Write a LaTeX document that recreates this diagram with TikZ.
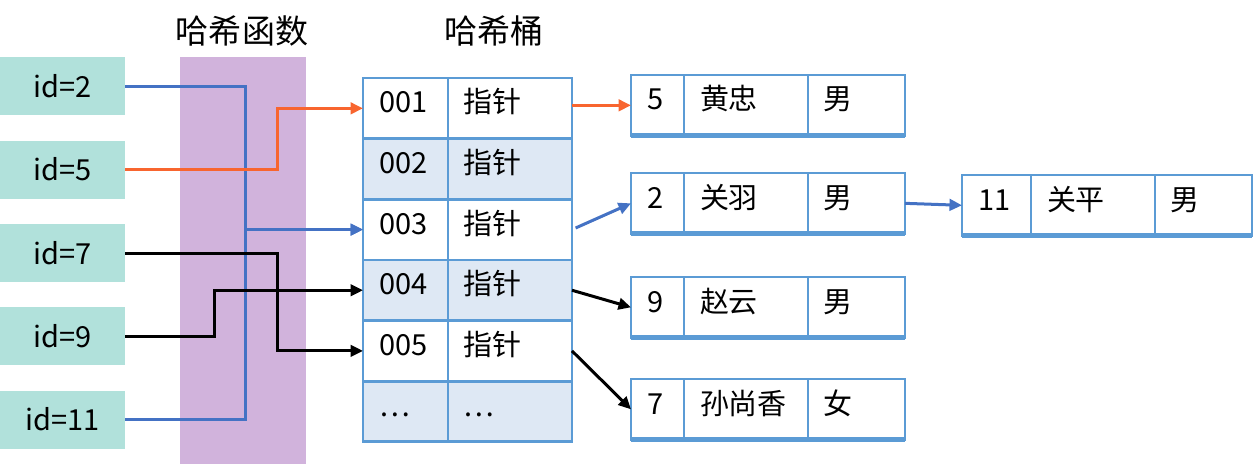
\documentclass[tikz,border=0pt]{standalone}
\usepackage{fontspec}
\setmainfont{Noto Sans CJK SC}
\usetikzlibrary{arrows.meta,positioning}
\definecolor{IdTeal}{HTML}{B1E1DB}
\definecolor{HashPurple}{HTML}{D1B3DC}
\definecolor{CellBlue}{HTML}{5B9BD5}
\definecolor{CellFill}{HTML}{DEE8F4}
\definecolor{LinkBlue}{HTML}{4472C4}
\definecolor{LinkOrange}{HTML}{F8652F}

\tikzset{
  title/.style={font=\fontsize{18.8pt}{22pt}\selectfont,inner sep=0pt},
  idbox/.style={fill=IdTeal,minimum width=2.5cm,minimum height=1.16cm,inner sep=0pt},
  cell/.style={draw=CellBlue,line width=0.055cm,outer sep=0pt,minimum height=1.213cm,
    inner xsep=0.32cm,inner ysep=0pt,align=left,text height=0.5cm,text depth=0.313cm},
  link/.style={line width=0.06cm,-{Triangle[length=0.25cm,width=0.23cm]}},
  baseline/.style={CellBlue,line width=0.09cm},
}

\begin{document}
\begin{tikzpicture}[x=0.02cm,y=-0.02cm,font=\fontsize{16.5pt}{19pt}\selectfont]
    \useasboundingbox (0,0) rectangle (1256,464);
    % hash function band and titles
    \node[fill=HashPurple,minimum width=2.52cm,minimum height=8.14cm,inner sep=0pt] (band) at (243,260.5) {};
    \node[title] (fntitle) at (242,31) {哈希函数};
    \node[title] (bktitle) at (494,31) {哈希桶};

    % keys
    \node[idbox] (id2)  at (62.5,86)    {id=2};
    \node[idbox] (id5)  at (62.5,169.5) {id=5};
    \node[idbox] (id7)  at (62.5,253)   {id=7};
    \node[idbox] (id9)  at (62.5,336)   {id=9};
    \node[idbox] (id11) at (62.5,419.5) {id=11};

    % hash buckets
    \node[cell,fill=white,text width=1.06cm,anchor=north west] (k1) at (363,78) {001};
    \node[cell,fill=white,text width=1.84cm,right=0pt of k1] (p1) {指针};
    \foreach \i/\k/\p/\c [remember=\i as \j (initially 1)] in
      {2/002/指针/CellFill,3/003/指针/white,4/004/指针/CellFill,5/005/指针/white,6/…/…/CellFill}{
      \node[cell,fill=\c,text width=1.06cm,below=0pt of k\j] (k\i) {\k};
      \node[cell,fill=\c,text width=1.84cm,right=0pt of k\i] (p\i) {\p};
    }

    % keys through the hash function
    \draw[link,LinkBlue]   (id2.east)  -- ++(120,0) |- (k3.west);
    \draw[link,LinkBlue]   (id11.east) -- ++(120,0) |- (k3.west);
    \draw[link,LinkOrange] (id5.east)  -- ++(152,0) |- (k1.west);
    \draw[link]            (id7.east)  -- ++(152,0) |- (k5.west);
    \draw[link]            (id9.east)  -- ++(89,0)  |- (k4.west);

    % records
    \node[cell,text width=0.42cm,anchor=north west] (rec5) at (631,75) {5};
    \node[cell,text width=1.84cm,right=0pt of rec5] (rec5n) {黄忠};
    \node[cell,text width=1.30cm,right=0pt of rec5n] (rec5g) {男};
    \node[cell,text width=0.42cm,anchor=north west] (rec2) at (631,173) {2};
    \node[cell,text width=1.84cm,right=0pt of rec2] (rec2n) {关羽};
    \node[cell,text width=1.30cm,right=0pt of rec2n] (rec2g) {男};
    \node[cell,text width=0.74cm,anchor=north west] (rec11) at (962,175) {11};
    \node[cell,text width=1.84cm,right=0pt of rec11] (rec11n) {关平};
    \node[cell,text width=1.30cm,right=0pt of rec11n] (rec11g) {男};
    \node[cell,text width=0.42cm,anchor=north west] (rec9) at (631,277) {9};
    \node[cell,text width=1.84cm,right=0pt of rec9] (rec9n) {赵云};
    \node[cell,text width=1.30cm,right=0pt of rec9n] (rec9g) {男};
    \node[cell,text width=0.42cm,anchor=north west] (rec7) at (631,379) {7};
    \node[cell,text width=1.84cm,right=0pt of rec7] (rec7n) {孙尚香};
    \node[cell,text width=1.30cm,right=0pt of rec7n] (rec7g) {女};
    \foreach \n in {5,2,11,9,7}
      \draw[baseline] (rec\n.south west) -- (rec\n g.south east);

    % bucket pointers
    \draw[link,LinkOrange] (p1.east |- rec5.west) -- (rec5.west);
    \draw[link,LinkBlue,shorten <=0.08cm] (p3.east) -- (rec2.west);
    \draw[link,LinkBlue] (rec2g.east) -- (rec11.west);
    \draw[link] (p4.east) -- (rec9.west);
    \draw[link] (p5.east) -- (rec7.west);
  \end{tikzpicture}
\end{document}
